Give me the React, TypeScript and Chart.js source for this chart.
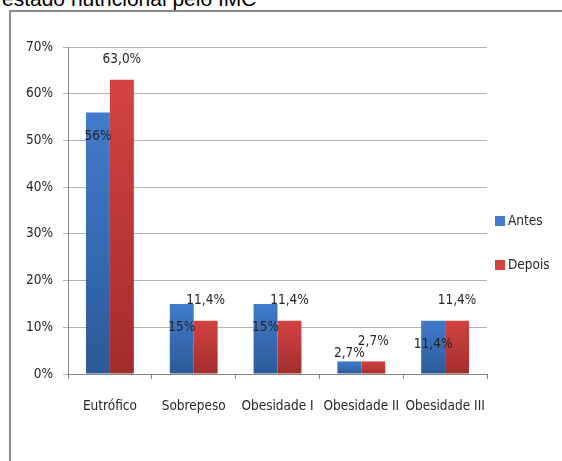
import React, { useEffect, useRef } from "react";
import { Chart, registerables } from "chart.js";

Chart.register(...registerables);

// Estado nutricional segundo o IMC, antes e depois
const categories = ["Eutrófico", "Sobrepeso", "Obesidade I", "Obesidade II", "Obesidade III"];
const antes = [56, 15, 15, 2.7, 11.4];
const depois = [63.0, 11.4, 11.4, 2.7, 11.4];
const antesLabels = ["56%", "15%", "15%", "2,7%", "11,4%"];
const depoisLabels = ["63,0%", "11,4%", "11,4%", "2,7%", "11,4%"];
const yTicks = [0, 10, 20, 30, 40, 50, 60, 70];

const FONT = "'DejaVu Sans Condensed', 'DejaVu Sans', sans-serif";
const FONT_SIZE = 13.5;
const TEXT = "#262626";

const BLUE = ["#427bcd", "#2c5a98"];
const RED = ["#d44342", "#a22d2b"];

function barGradient(colors: string[]) {
  return (ctx: any) => {
    const chart = ctx.chart;
    const area = chart.chartArea;
    if (!area || ctx.type !== "data") return colors[0];
    const yScale = chart.scales.y;
    const top = yScale.getPixelForValue(ctx.raw);
    const base = yScale.getPixelForValue(0);
    const g = chart.ctx.createLinearGradient(0, top, 0, base);
    g.addColorStop(0, colors[0]);
    g.addColorStop(1, colors[1]);
    return g;
  };
}

const valueLabels = {
  id: "valueLabels",
  afterDatasetsDraw(chart: any) {
    const { ctx } = chart;
    const base = chart.scales.y.getPixelForValue(0);
    ctx.save();
    ctx.font = `${FONT_SIZE}px ${FONT}`;
    ctx.fillStyle = TEXT;
    ctx.textAlign = "center";
    ctx.textBaseline = "middle";
    chart.getDatasetMeta(0).data.forEach((bar: any, i: number) => {
      const y = Math.min(bar.y + 24, base - 21);
      ctx.fillText(antesLabels[i], bar.x, y);
    });
    chart.getDatasetMeta(1).data.forEach((bar: any, i: number) => {
      ctx.fillText(depoisLabels[i], bar.x, bar.y - 20);
    });
    ctx.restore();
  },
};

const sideLegend = {
  id: "sideLegend",
  afterDraw(chart: any) {
    const { ctx } = chart;
    const items = [
      { text: "Antes", color: BLUE[0], y: 221 },
      { text: "Depois", color: RED[0], y: 265 },
    ];
    ctx.save();
    ctx.font = `${FONT_SIZE}px ${FONT}`;
    ctx.textBaseline = "middle";
    ctx.textAlign = "left";
    items.forEach((it) => {
      ctx.fillStyle = it.color;
      ctx.fillRect(495, it.y - 5, 10, 10);
      ctx.fillStyle = TEXT;
      ctx.fillText(it.text, 508, it.y);
    });
    ctx.restore();
  },
};

function BarChart() {
  const ref = useRef<HTMLCanvasElement>(null);

  useEffect(() => {
    if (!ref.current) return;
    const chart = new Chart(ref.current, {
      type: "bar",
      data: {
        labels: categories,
        datasets: [
          {
            label: "Antes",
            data: antes,
            backgroundColor: barGradient(BLUE),
            barPercentage: 1,
            categoryPercentage: 0.571,
          },
          {
            label: "Depois",
            data: depois,
            backgroundColor: barGradient(RED),
            barPercentage: 1,
            categoryPercentage: 0.571,
          },
        ],
      },
      options: {
        responsive: false,
        animation: false,
        layout: { padding: { left: 0, top: 47, right: 75, bottom: 37 } },
        plugins: {
          legend: { display: false },
          tooltip: { enabled: false },
          title: { display: false },
        },
        scales: {
          x: {
            offset: true,
            grid: {
              offset: true,
              drawOnChartArea: false,
              drawTicks: true,
              tickLength: 5,
              color: "#868686",
            },
            border: { color: "#868686", width: 1 },
            ticks: {
              font: { family: FONT, size: FONT_SIZE },
              color: TEXT,
              padding: 19,
              maxRotation: 0,
              minRotation: 0,
              autoSkip: false,
            },
            afterFit(scale: any) {
              scale.height = 50;
            },
          },
          y: {
            min: 0,
            max: 70,
            afterBuildTicks(scale: any) {
              scale.ticks = yTicks.map((v) => ({ value: v }));
            },
            grid: {
              color: "#b3b3b3",
              tickLength: 5,
              drawTicks: true,
            },
            border: { color: "#868686", width: 1 },
            ticks: {
              font: { family: FONT, size: FONT_SIZE },
              color: TEXT,
              padding: 10,
              callback: (v: any) => `${v}%`,
            },
            afterFit(scale: any) {
              scale.width = 68;
            },
          },
        },
      },
      plugins: [valueLabels, sideLegend],
    });
    return () => chart.destroy();
  }, []);

  return <canvas ref={ref} width={562} height={461} style={{ position: "absolute", left: 0, top: 0 }} />;
}

export default function App() {
  useEffect(() => {
    document.body.style.margin = "0";
  }, []);
  return (
    <div style={{ position: "relative", width: 562, height: 461, overflow: "hidden", background: "#fff" }}>
      <div
        style={{
          position: "absolute",
          left: 2,
          top: -12,
          fontFamily: "'Liberation Sans', Arial, sans-serif",
          fontSize: 21,
          lineHeight: "21px",
          color: "#000",
          whiteSpace: "nowrap",
        }}
      >
        estado nutricional pelo IMC
      </div>
      <div
        style={{
          position: "absolute",
          left: 9,
          top: 10,
          width: 600,
          height: 500,
          borderLeft: "2px solid #8a8a8a",
          borderTop: "2px solid #8a8a8a",
          boxSizing: "border-box",
        }}
      />
      <BarChart />
    </div>
  );
}
